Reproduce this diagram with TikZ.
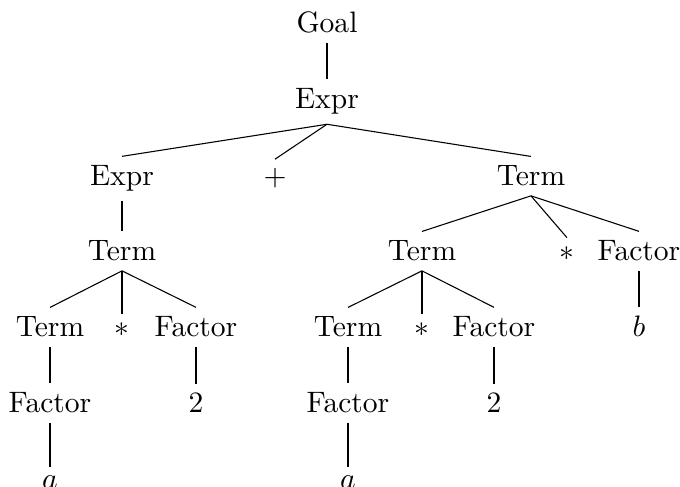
\documentclass[tikz,border=0pt]{standalone}
\begin{document}
\begin{tikzpicture}[x=0.3704pt,y=-0.3704pt,
  lbl/.style={anchor=base,inner sep=0.3333em,font=\fontsize{10.95}{13.6}\selectfont},
  edge/.style={draw=black,line width=0.4pt}]
\useasboundingbox (0,0) rectangle (680,487);
% level 0
\node[lbl] (goal) at (327,33) {Goal};
% level 1
\node[lbl] (expr) at (327,109) {Expr};
% level 2
\node[lbl] (exprL) at (122,186) {Expr};
\node[lbl] (plus) at (275,186) {$+$};
\node[lbl] (termR) at (531,186) {Term};
% level 3
\node[lbl] (termL) at (122,261) {Term};
\node[lbl] (termM) at (422,261) {Term};
\node[lbl] (starR) at (567,261) {$*$};
\node[lbl] (factR) at (639,261) {Factor};
% level 4
\node[lbl] (termLL) at (50,337) {Term};
\node[lbl] (starL) at (122,337) {$*$};
\node[lbl] (factL) at (196,337) {Factor};
\node[lbl] (termB) at (348,337) {Term};
\node[lbl] (starB) at (422,337) {$*$};
\node[lbl] (factB) at (494,337) {Factor};
\node[lbl] (b) at (639,337) {$b$};
% level 5
\node[lbl] (factLL) at (50,413) {Factor};
\node[lbl] (twoL) at (196,413) {2};
\node[lbl] (factBB) at (348,413) {Factor};
\node[lbl] (twoB) at (494,413) {2};
% level 6
\node[lbl] (aL) at (50,489) {$a$};
\node[lbl] (aB) at (348,489) {$a$};
% edges
\draw[edge] (goal.south) -- (expr.north);
\draw[edge] (expr.south) -- (exprL.north);
\draw[edge] (expr.south) -- (plus.north);
\draw[edge] (expr.south) -- (termR.north);
\draw[edge] (exprL.south) -- (termL.north);
\draw[edge] (termL.south) -- (termLL.north);
\draw[edge] (termL.south) -- (starL.north);
\draw[edge] (termL.south) -- (factL.north);
\draw[edge] (termLL.south) -- (factLL.north);
\draw[edge] (factL.south) -- (twoL.north);
\draw[edge] (factLL.south) -- (aL.north);
\draw[edge] (termR.south) -- (termM.north);
\draw[edge] (termR.south) -- (starR.north);
\draw[edge] (termR.south) -- (factR.north);
\draw[edge] (factR.south) -- (b.north);
\draw[edge] (termM.south) -- (termB.north);
\draw[edge] (termM.south) -- (starB.north);
\draw[edge] (termM.south) -- (factB.north);
\draw[edge] (termB.south) -- (factBB.north);
\draw[edge] (factB.south) -- (twoB.north);
\draw[edge] (factBB.south) -- (aB.north);
\end{tikzpicture}
\end{document}
